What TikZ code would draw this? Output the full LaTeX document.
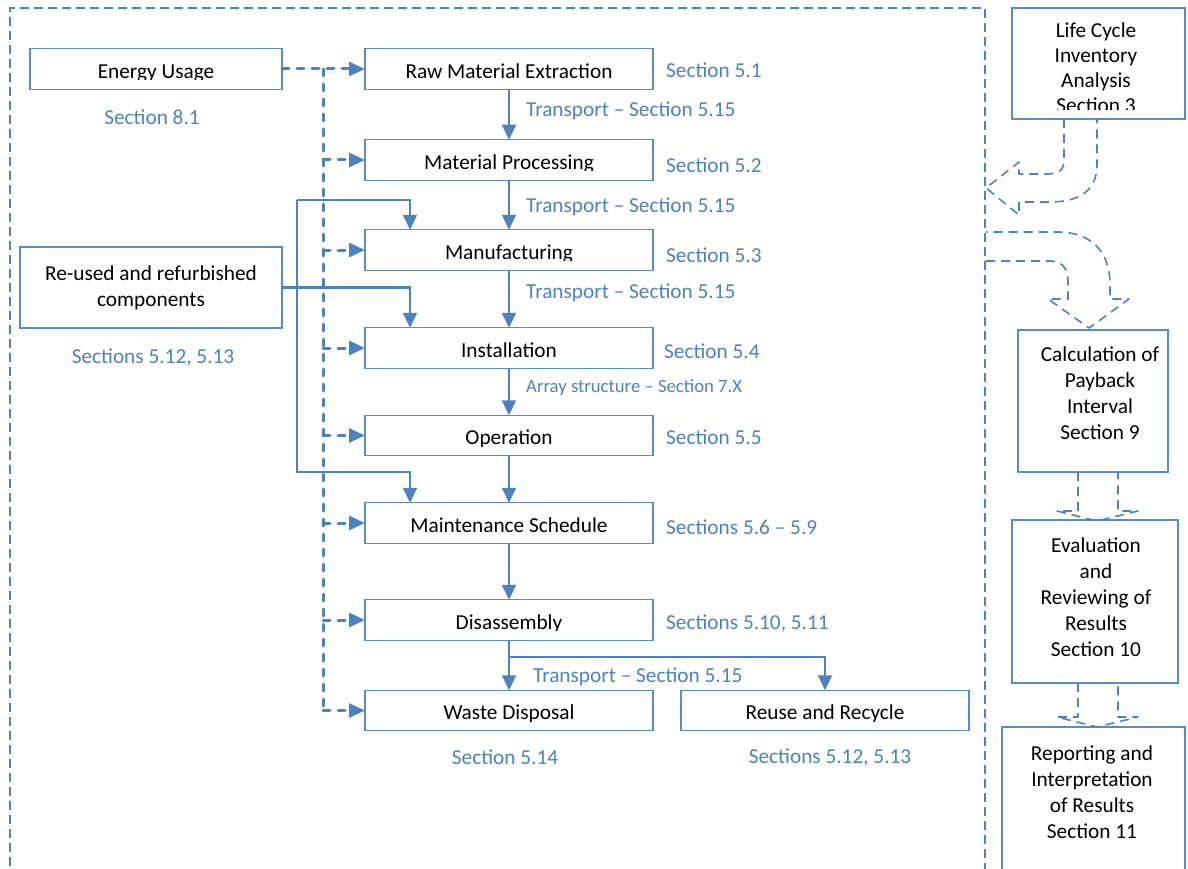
\documentclass[tikz,border=0pt]{standalone}
\usepackage{fontspec}
\setmainfont{Carlito}
\usetikzlibrary{arrows.meta}
\definecolor{lineblue}{HTML}{4F81BD}
\definecolor{boxblue}{HTML}{5B8BC6}
\definecolor{labelblue}{HTML}{4F81BD}
\newcommand\stagefont{\fontsize{21.3}{26}\selectfont}
\newcommand\notesmall{\fontsize{18.7}{22}\selectfont}

\begin{document}
\begin{tikzpicture}[x=1pt,y=-1pt,
  stage/.style={draw=boxblue, line width=1.3pt, minimum width=288pt, minimum height=40.5pt,
    inner sep=0pt, outer sep=0pt,
    path picture={\clip ([yshift=9.5pt]path picture bounding box.south west)
        rectangle (path picture bounding box.north east);
      \node[anchor=base, font=\stagefont, inner sep=0pt]
        at ([yshift=11pt]path picture bounding box.south) {#1};}},
  panel/.style={draw=boxblue, line width=1.3pt, inner sep=0pt, outer sep=0pt},
  paneltext/.style={font=\stagefont, align=center, inner sep=0pt},
  note/.style={text=labelblue, font=\stagefont, inner sep=0pt},
  flow/.style={draw=lineblue, line width=2.2pt, -{Triangle[length=15pt,width=14pt]}},
  feed/.style={draw=lineblue, line width=3pt, line cap=round, dash pattern=on 7pt off 8pt},
  feedarrow/.style={feed, -{Triangle[length=16pt,width=14pt]}},
  frame/.style={draw=lineblue, line width=1.5pt, dash pattern=on 9pt off 5pt},
  block/.style={draw=lineblue, line width=1.6pt, dash pattern=on 9pt off 6pt, line join=round},
]
\useasboundingbox (0,0) rectangle (1188,869);

% dashed system boundary
\draw[frame] (10,880) -- (10,8) -- (985,8) -- (985,880);

% life cycle stages
\node[stage={Energy Usage}, minimum width=252pt] (energy) at (156,69) {};
\node[stage={Raw Material Extraction}] (raw)   at (509,69) {};
\node[stage={Material Processing}]     (mat)   at (509,160) {};
\node[stage={Manufacturing}]           (manu)  at (509,250) {};
\node[stage={Installation}]            (inst)  at (509,348) {};
\node[stage={Operation}]               (oper)  at (509,435.5) {};
\node[stage={Maintenance Schedule}]    (maint) at (509,523) {};
\node[stage={Disassembly}]             (disa)  at (509,620) {};
\node[stage={Waste Disposal}]          (waste) at (509,710.5) {};
\node[stage={Reuse and Recycle}]       (reuse) at (825,710.5) {};

\node[panel, paneltext, minimum width=262pt, minimum height=81pt] (reused) at (151,287.5)
  {Re-used and refurbished\\components};

% section references
\node[note] (s81) at (152,117) {Section 8.1};
\node[note, anchor=west] (s51) at (666,70) {Section 5.1};
\node[note, anchor=west] (t1) at (526,111) {Transport -- Section 5.15};
\node[note, anchor=west] (s52) at (666,165) {Section 5.2};
\node[note, anchor=west] (t2) at (526,207) {Transport -- Section 5.15};
\node[note, anchor=west] (s53) at (666,255) {Section 5.3};
\node[note, anchor=west] (t3) at (526,293) {Transport -- Section 5.15};
\node[note] (s512a) at (153,357) {Sections 5.12, 5.13};
\node[note, anchor=west] (s54) at (664,351) {Section 5.4};
\node[note, anchor=west, font=\notesmall] (arr) at (526,388) {Array structure -- Section 7.X};
\node[note, anchor=west] (s55) at (666,437) {Section 5.5};
\node[note, anchor=west] (s56) at (666,527) {Sections 5.6 -- 5.9};
\node[note, anchor=west] (s510) at (666,623) {Sections 5.10, 5.11};
\node[note, anchor=west] (t4) at (533,677) {Transport -- Section 5.15};
\node[note] (s514) at (505,757) {Section 5.14};
\node[note] (s512b) at (830,757) {Sections 5.12, 5.13};

% main process chain
\draw[flow] (raw) -- (mat);
\draw[flow] (mat) -- (manu);
\draw[flow] (manu) -- (inst);
\draw[flow] (inst) -- (oper);
\draw[flow] (oper) -- (maint);
\draw[flow] (maint) -- (disa);
\draw[flow] (disa) -- (waste);
\coordinate (split) at (509,657);
\draw[flow] (split) -| (reuse.north);

% re-used components feeding back
\coordinate (loopT) at (297,200);
\coordinate (loopB) at (297,472);
\draw[flow] (loopT) -| ([xshift=-99pt]manu.north);
\draw[flow, line join=miter] (loopT) -- (loopB) -| ([xshift=-99pt]maint.north);
\draw[flow] (reused.east) -| ([xshift=-99pt]inst.north);

% energy supply bus
\draw[feedarrow] (energy.east) -- (raw.west);
\coordinate (bus) at (323,69);
\draw[feed] (bus) -- (bus |- waste.west);
\foreach \n in {mat,manu,inst,oper,maint,disa,waste}
  \draw[feedarrow] (bus |- \n.west) -- (\n.west);

% assessment column
\node[panel, minimum width=173pt, minimum height=111pt] (lci) at (1098.5,63.5) {};
\begin{scope}
  \clip (lci.north west) rectangle ([yshift=9pt]lci.south east);
  \node[paneltext, font=\fontsize{21.3}{25}\selectfont] (lciT) at (1096,67.5)
    {Life Cycle\\Inventory\\Analysis\\Section 3};
\end{scope}

\node[panel, minimum width=150pt, minimum height=142pt] (calc) at (1093,401) {};
\node[paneltext] (calcT) at (1100,393) {Calculation of\\Payback\\Interval\\Section 9};

\node[panel, minimum width=166pt, minimum height=163pt] (eval) at (1095,601.5) {};
\node[paneltext] (evalT) at (1096,597) {Evaluation\\and\\Reviewing of\\Results\\Section 10};

\node[panel, minimum width=183pt, minimum height=173pt] (rep) at (1093.5,813.5) {};
\node[paneltext] (repT) at (1092,792) {Reporting and\\Interpretation\\of Results\\Section 11};

% hollow block arrows
\draw[block] (1064,119) -- (1064,160) .. controls (1064,171) and (1058,174) .. (1046,174)
  -- (1019,174) -- (1019,162) -- (986,188) -- (1019,215) -- (1019,202) -- (1050,202)
  .. controls (1080,202) and (1097,190) .. (1097,165) -- (1097,119);
\draw[block] (986,261) -- (1050,261) .. controls (1062,261) and (1068,268) .. (1068,282)
  -- (1068,299) -- (1048,299) -- (1089,328) -- (1129,299) -- (1110,299) -- (1110,285)
  .. controls (1110,250) and (1090,232) .. (1057,232) -- (986,232);
\draw[block] (1078,472) -- (1078,511) -- (1057,511) -- (1097,521) -- (1138,511)
  -- (1118,511) -- (1118,472);
\draw[block] (1078,683) -- (1078,717) -- (1057,717) -- (1097,727) -- (1138,717)
  -- (1118,717) -- (1118,683);
\end{tikzpicture}
\end{document}
